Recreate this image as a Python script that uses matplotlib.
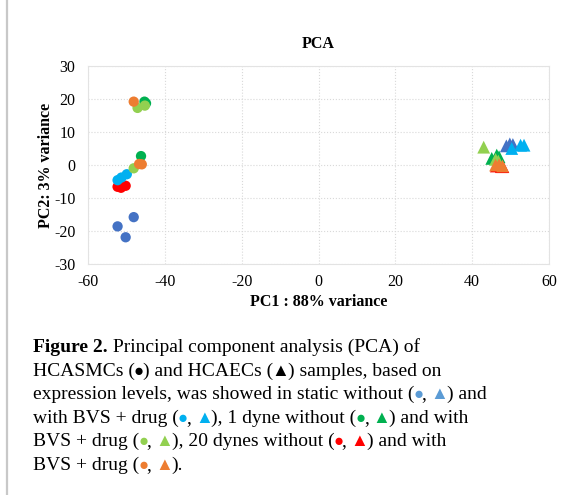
import numpy as np
import matplotlib
matplotlib.use("Agg")
import matplotlib.pyplot as plt
from matplotlib.lines import Line2D

plt.rcParams['font.family'] = ['Liberation Serif', 'DejaVu Sans']
plt.rcParams['axes.unicode_minus'] = False

# HCASMCs (circles) - PC1, PC2 per condition
smc_static_x = [-52.3, -48.1, -50.2]
smc_static_y = [-18.6, -15.8, -21.9]
smc_static_drug_x = [-52.3, -51.3, -49.9]
smc_static_drug_y = [-4.6, -3.8, -2.8]
smc_1dyne_x = [-45.3, -46.2, -44.9]
smc_1dyne_y = [19.2, 2.7, 18.7]
smc_1dyne_drug_x = [-47.1, -45.2, -48.1]
smc_1dyne_drug_y = [17.3, 18.0, -1.0]
smc_20dyne_x = [-52.3, -50.2, -51.4]
smc_20dyne_y = [-6.6, -6.3, -6.9]
smc_20dyne_drug_x = [-48.1, -46.7, -46.0]
smc_20dyne_drug_y = [19.2, 0.3, 0.2]

# HCAECs (triangles)
ec_static_x = [49.8, 48.9, 50.6]
ec_static_y = [6.4, 5.8, 6.2]
ec_static_drug_x = [50.3, 52.6, 53.5]
ec_static_drug_y = [5.0, 6.0, 6.0]
ec_1dyne_x = [45.1, 47.0, 46.4]
ec_1dyne_y = [2.0, 2.5, 3.0]
ec_1dyne_drug_x = [43.0, 46.1, 46.8]
ec_1dyne_drug_y = [5.4, 1.7, 1.2]
ec_20dyne_x = [47.6, 46.3, 48.0]
ec_20dyne_y = [-0.5, -0.3, -0.5]
ec_20dyne_drug_x = [46.1, 47.9, 47.0]
ec_20dyne_drug_y = [0.0, -0.3, 0.1]

c_blue = '#4472C4'
c_lblue = '#00B0F0'
c_green = '#00B050'
c_lgreen = '#92D050'
c_red = '#FF0000'
c_orange = '#ED7D31'

fig = plt.figure(figsize=(5.63, 4.95), dpi=100)
ax = fig.add_axes([88 / 563, 1 - 264 / 495, (549 - 88) / 563, (264 - 66) / 495])

# drawing order: red underneath, orange on top
series = [
    (smc_20dyne_x, smc_20dyne_y, ec_20dyne_x, ec_20dyne_y, c_red),
    (smc_static_x, smc_static_y, ec_static_x, ec_static_y, c_blue),
    (smc_static_drug_x, smc_static_drug_y, ec_static_drug_x, ec_static_drug_y, c_lblue),
    (smc_1dyne_x, smc_1dyne_y, ec_1dyne_x, ec_1dyne_y, c_green),
    (smc_1dyne_drug_x, smc_1dyne_drug_y, ec_1dyne_drug_x, ec_1dyne_drug_y, c_lgreen),
    (smc_20dyne_drug_x, smc_20dyne_drug_y, ec_20dyne_drug_x, ec_20dyne_drug_y, c_orange),
]
z = 3
for sx, sy, ex, ey, col in series:
    ax.scatter(sx, sy, s=55, marker='o', color=col, edgecolors='none', zorder=z)
    ax.scatter(ex, ey, s=85, marker='^', color=col, edgecolors='none', zorder=z)
    z += 1

ax.set_xlim(-60, 60)
ax.set_ylim(-30, 30)
ax.set_xticks(np.arange(-60, 61, 20))
ax.set_yticks(np.arange(-30, 31, 10))
ax.tick_params(length=0, labelsize=11.5)
ax.tick_params(axis='x', pad=7)
ax.tick_params(axis='y', pad=9)
ax.grid(True, color='#d9d9d9', linestyle=':', linewidth=0.8)
ax.set_axisbelow(True)
for sp in ax.spines.values():
    sp.set_color('#e3e3e3')
    sp.set_linewidth(0.8)

ax.set_title('PCA', fontsize=11.5, fontweight='bold', pad=13)
ax.set_xlabel('PC1 : 88% variance', fontsize=11.5, fontweight='bold', labelpad=3)
ax.set_ylabel('PC2: 3% variance', fontsize=11.5, fontweight='bold', labelpad=0)

# gray rule on the left edge
fig.add_artist(Line2D([7.5 / 563, 7.5 / 563], [0, 1], color='#c8c8c8', linewidth=1.6))

# caption with coloured markers
cap_blue = '#5B9BD5'
lines = [
    [('Figure 2.', 'k', 'bold'), (' Principal component analysis (PCA) of', 'k', 'normal')],
    [('HCASMCs (', 'k', 'normal'), ('●', 'k', 'normal'), (') and HCAECs (', 'k', 'normal'),
     ('▲', 'k', 'normal'), (') samples, based on', 'k', 'normal')],
    [('expression levels, was showed in static without (', 'k', 'normal'), ('●', cap_blue, 'normal'),
     (', ', 'k', 'normal'), ('▲', cap_blue, 'normal'), (') and', 'k', 'normal')],
    [('with BVS + drug (', 'k', 'normal'), ('●', c_lblue, 'normal'), (', ', 'k', 'normal'),
     ('▲', c_lblue, 'normal'), ('), 1 dyne without (', 'k', 'normal'), ('●', c_green, 'normal'),
     (', ', 'k', 'normal'), ('▲', c_green, 'normal'), (') and with', 'k', 'normal')],
    [('BVS + drug (', 'k', 'normal'), ('●', c_lgreen, 'normal'), (', ', 'k', 'normal'),
     ('▲', c_lgreen, 'normal'), ('), 20 dynes without (', 'k', 'normal'), ('●', c_red, 'normal'),
     (', ', 'k', 'normal'), ('▲', c_red, 'normal'), (') and with', 'k', 'normal')],
    [('BVS + drug (', 'k', 'normal'), ('●', c_orange, 'normal'), (', ', 'k', 'normal'),
     ('▲', c_orange, 'normal'), (').', 'k', 'normal')],
]

renderer = fig.canvas.get_renderer()
W, H = 563, 495
base = 352
step = 23.6
for i, segs in enumerate(lines):
    x = 33
    y = 1 - (base + i * step) / H
    for txt, col, wt in segs:
        fs = 14
        shift = 0
        if txt == '●':
            fs = 12
            shift = -1
        elif txt == '▲':
            fs = 13
            shift = -1.5
        x += shift
        t = fig.text(x / W, y, txt, color=col, fontsize=fs, fontweight=wt,
                     ha='left', va='baseline')
        bb = t.get_window_extent(renderer)
        x += bb.width + shift

fig.savefig('out.png', dpi=100)
